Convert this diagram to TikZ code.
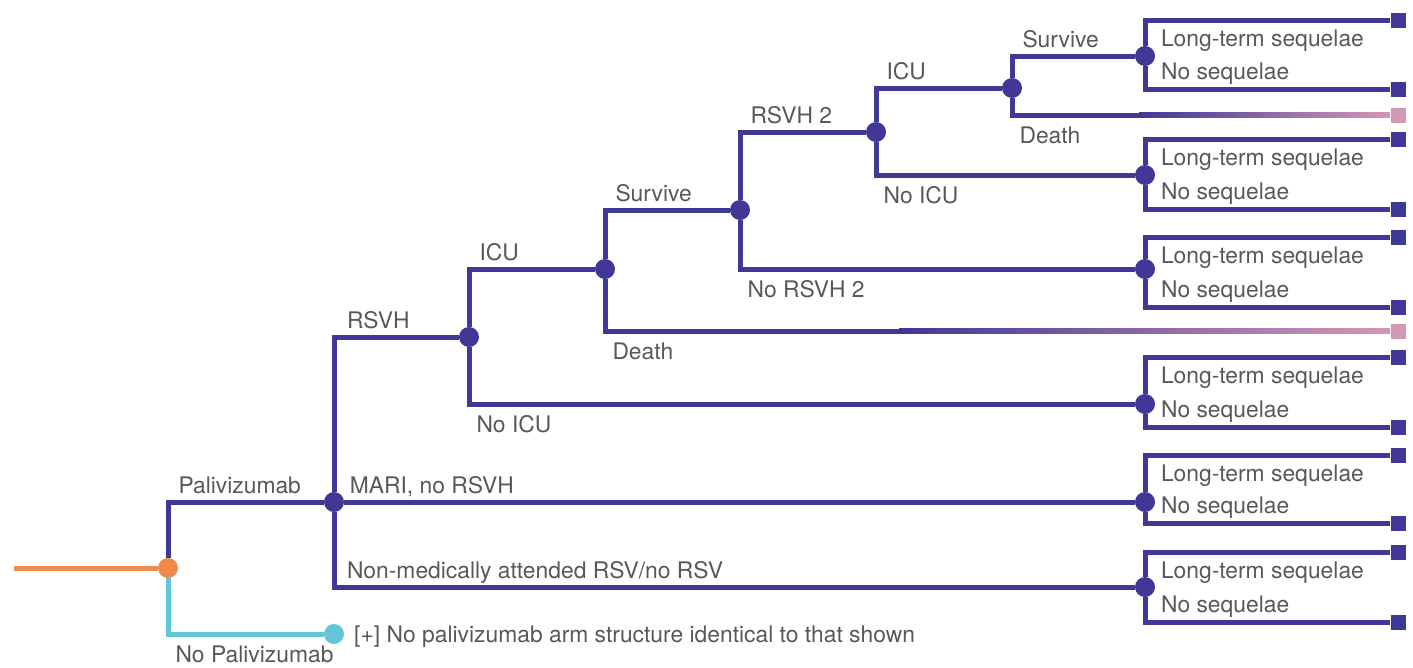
\documentclass[tikz,border=0pt]{standalone}
\usepackage{fontspec}
\setmainfont{TeX Gyre Heros}
\usepackage{tikz}
\usetikzlibrary{positioning,calc}
\definecolor{Indigo}{HTML}{403896}
\definecolor{Coral}{HTML}{F28B4A}
\definecolor{Aqua}{HTML}{62C6D8}
\definecolor{Rose}{HTML}{D597B6}
\definecolor{Graphite}{HTML}{58585A}

\begin{document}
\begin{tikzpicture}[x=0.02cm,y=-0.02cm,
  every node/.style={font=\fontsize{13}{15}\selectfont,text=Graphite,inner sep=0pt},
  chance/.style={circle,fill=Indigo,minimum size=0.4cm},
  leaf/.style={fill=Indigo,minimum size=0.3cm},
  br/.style={Indigo,line width=0.1cm},
  up/.style={pos=0.5,anchor=base west,xshift=0.16cm,yshift=0.18cm},
  dn/.style={pos=0.5,anchor=base west,xshift=0.1cm,yshift=-0.57cm},
  lt/.style={pos=0.5,anchor=base west,xshift=0.27cm,yshift=-0.53cm},
  ns/.style={pos=0.5,anchor=base west,xshift=0.27cm,yshift=0.19cm}
]
\useasboundingbox (0,0) rectangle (1413,667);

% chance nodes
\node[chance,fill=Coral] (root) at (168,568) {};
\node[chance] (pal) at (334,502) {};
\node[chance,fill=Aqua] (nopal) at (334,634) {};
\node[chance] (rsvh) at (469,337) {};
\node[chance] (icu) at (605,269) {};
\node[chance] (surv) at (740,210) {};
\node[chance] (rsvhb) at (876,132) {};
\node[chance] (icub) at (1012,88) {};
% sequelae nodes
\foreach \s/\y in {sqa/56,sqb/175,sqc/269,sqd/404,sqe/502,sqf/587}
  \node[chance] (\s) at (1145,\y) {};
% terminal nodes
\foreach \n/\y in {ta/20,ba/89,tb/139,bb/209,tc/237,bc/307,td/357,bd/427,te/455,be/523,tf/552,bf/622}
  \node[leaf] (\n) at (1398,\y) {};
\node[leaf,fill=Rose] (dtha) at (1398,331) {};
\node[leaf,fill=Rose] (dthb) at (1398,115) {};

\coordinate (in) at (14,568);
\draw[Coral,line width=0.1cm] (in) -- (root);
\draw[br] (root) |- node[up]{Palivizumab} (pal);
\draw[Aqua,line width=0.1cm] (root) |- node[dn]{No Palivizumab} (nopal);
\node[right=0.19cm of nopal,yshift=-0.05cm] (note) {[+] No palivizumab arm structure identical to that shown};

\draw[br] (pal) |- node[up,xshift=0.05cm]{RSVH} (rsvh);
\draw[br] (pal) -- node[pos=0,anchor=base west,xshift=0.06cm,yshift=0.18cm]{MARI, no RSVH} (sqe);
\draw[br] (pal) |- node[up,xshift=0.05cm]{Non-medically attended RSV/no RSV} (sqf);
\draw[br] (rsvh) |- node[up]{ICU} (icu);
\draw[br] (rsvh) |- node[dn]{No ICU} (sqd);
\draw[br] (icu) |- node[up]{Survive} (surv);
\coordinate (fda) at (900,331);
\draw[br] (icu) |- node[dn]{Death} (fda);
\shade[left color=Indigo,right color=Rose] ($(fda)+(-1,-2.5)$) rectangle ($(dtha.west)+(0,2.5)$);
\draw[br] (surv) |- node[up]{RSVH 2} (rsvhb);
\draw[br] (surv) |- node[dn]{No RSVH 2} (sqc);
\draw[br] (rsvhb) |- node[up]{ICU} (icub);
\draw[br] (rsvhb) |- node[dn]{No ICU} (sqb);
\draw[br] (icub) |- node[up]{Survive} (sqa);
\coordinate (fdb) at (1140,115);
\draw[br] (icub) |- node[dn]{Death} (fdb);
\shade[left color=Indigo,right color=Rose] ($(fdb)+(-1,-2.5)$) rectangle ($(dthb.west)+(0,2.5)$);

% sequelae
\foreach \s/\a/\b in {sqa/ta/ba,sqb/tb/bb,sqc/tc/bc,sqd/td/bd,sqe/te/be,sqf/tf/bf}{
  \draw[br] (\s) |- node[lt]{Long-term sequelae} (\a);
  \draw[br] (\s) |- node[ns]{No sequelae} (\b);
}
\end{tikzpicture}
\end{document}
